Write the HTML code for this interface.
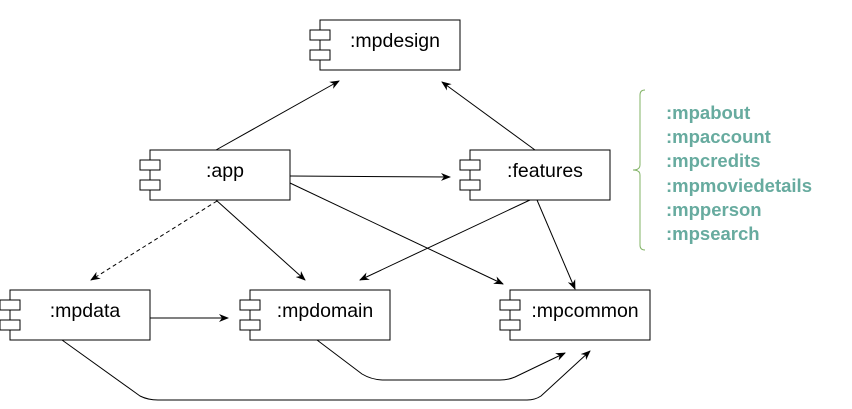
<!DOCTYPE html>
<html><head><style>
body{margin:0;background:#fff;}
svg{display:block;font-family:"Liberation Sans",Arial,sans-serif;}
</style></head><body>
<svg width="852" height="409" viewBox="0 0 852 409" xmlns="http://www.w3.org/2000/svg">
<defs>
<marker id="a" markerWidth="10" markerHeight="10" refX="9" refY="5" orient="auto" markerUnits="userSpaceOnUse">
<path d="M0,1 L10,5 L0,9 L3,5 Z" fill="#000"/>
</marker>
</defs>
<g fill="#fff" stroke="#000" stroke-width="1">
<rect x="320" y="20" width="140" height="50"/><rect x="310" y="30" width="20" height="10"/><rect x="310" y="50" width="20" height="10"/>
<rect x="150" y="150" width="140" height="50"/><rect x="140" y="160" width="20" height="10"/><rect x="140" y="180" width="20" height="10"/>
<rect x="470" y="150" width="140" height="50"/><rect x="460" y="160" width="20" height="10"/><rect x="460" y="180" width="20" height="10"/>
<rect x="10" y="290" width="140" height="50"/><rect x="0" y="300" width="20" height="10"/><rect x="0" y="320" width="20" height="10"/>
<rect x="250" y="290" width="140" height="50"/><rect x="240" y="300" width="20" height="10"/><rect x="240" y="320" width="20" height="10"/>
<rect x="510" y="290" width="140" height="50"/><rect x="500" y="300" width="20" height="10"/><rect x="500" y="320" width="20" height="10"/>
</g>
<g font-size="19.5" fill="#000" text-anchor="middle">
<text x="395" y="47">:mpdesign</text>
<text x="225" y="177">:app</text>
<text x="545" y="177">:features</text>
<text x="85" y="317">:mpdata</text>
<text x="325" y="317">:mpdomain</text>
<text x="585" y="317">:mpcommon</text>
</g>
<g stroke="#000" stroke-width="1" fill="none" marker-end="url(#a)">
<path d="M216,150 L339,81"/>
<path d="M535,150 L442,82"/>
<path d="M290,176 L450,177"/>
<path d="M290,183 L503,284"/>
<path d="M216,200 L305,280"/>
<path d="M217,201 L91,280" stroke-dasharray="4,3"/>
<path d="M530,200 L360,280"/>
<path d="M537,200 L575,289"/>
<path d="M150,318 L228,318"/>
<path d="M317,340 L362,374 Q372,380 384,380 L500,380 Q508,380 515,377 L565,353"/>
<path d="M62,340 L140,396 Q148,400 158,400 L527,400 Q535,400 541,396 L590,351"/>
</g>
<path d="M645,90 Q640,90 640,95 L640,165 Q640,170 633,170 Q640,170 640,175 L640,245 Q640,250 645,250" fill="none" stroke="#82b366" stroke-width="1"/>
<g font-size="18.5" font-weight="bold" fill="#67AB9F">
<text x="666" y="119">:mpabout</text>
<text x="666" y="143">:mpaccount</text>
<text x="666" y="167">:mpcredits</text>
<text x="666" y="192">:mpmoviedetails</text>
<text x="666" y="216">:mpperson</text>
<text x="666" y="240">:mpsearch</text>
</g>
</svg>
</body></html>
